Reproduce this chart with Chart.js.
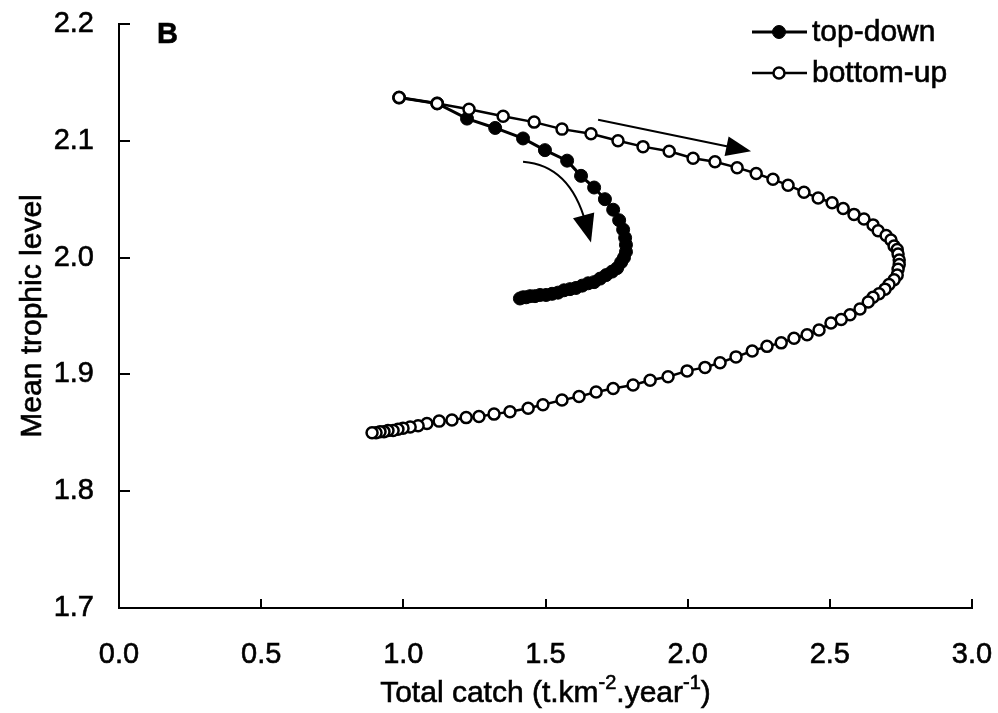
<!DOCTYPE html>
<html><head><meta charset="utf-8">
<script src="https://cdn.jsdelivr.net/npm/chart.js@4.4.1/dist/chart.umd.min.js"></script>
<style>html,body{margin:0;padding:0;background:#fff}#wrap{width:998px;height:713px;position:relative}</style>
</head><body><div id="wrap"><canvas id="c" width="998" height="713"></canvas></div>
<script>
// ---- data ----
const seriesNames = ['top-down', 'bottom-up'];
const topDownX = [0.985,1.119,1.224,1.323,1.421,1.498,1.576,1.625,1.671,1.709,1.738,1.759,1.773,1.780,1.783,1.783,1.776,1.766,1.752,1.734,1.713,1.692,1.671,1.650,1.629,1.607,1.586,1.565,1.544,1.523,1.502,1.481,1.463,1.446,1.432,1.421,1.410];
const topDownY = [2.137,2.132,2.119,2.111,2.102,2.092,2.083,2.070,2.060,2.050,2.041,2.032,2.024,2.017,2.011,2.005,2.000,1.996,1.991,1.988,1.985,1.982,1.979,1.978,1.976,1.974,1.973,1.972,1.970,1.969,1.968,1.968,1.967,1.967,1.966,1.966,1.965];
const bottomUpX = [0.985,1.119,1.231,1.351,1.460,1.558,1.660,1.755,1.843,1.935,2.019,2.096,2.174,2.241,2.300,2.353,2.409,2.459,2.508,2.547,2.585,2.620,2.652,2.670,2.698,2.715,2.726,2.737,2.740,2.744,2.744,2.740,2.737,2.726,2.708,2.694,2.673,2.652,2.635,2.606,2.571,2.540,2.504,2.462,2.420,2.374,2.329,2.279,2.227,2.170,2.114,2.061,1.998,1.931,1.868,1.808,1.738,1.678,1.618,1.558,1.491,1.439,1.375,1.319,1.266,1.221,1.171,1.126,1.083,1.052,1.024,0.999,0.981,0.964,0.946,0.932,0.918,0.904,0.890];
const bottomUpY = [2.137,2.132,2.127,2.121,2.116,2.110,2.106,2.100,2.095,2.091,2.085,2.082,2.077,2.072,2.067,2.062,2.056,2.051,2.047,2.042,2.037,2.033,2.028,2.023,2.019,2.015,2.010,2.007,2.003,1.998,1.994,1.990,1.985,1.981,1.977,1.973,1.969,1.966,1.962,1.956,1.951,1.947,1.944,1.938,1.934,1.931,1.927,1.924,1.920,1.915,1.910,1.906,1.903,1.898,1.895,1.891,1.888,1.885,1.881,1.878,1.874,1.871,1.868,1.866,1.864,1.863,1.861,1.860,1.858,1.856,1.855,1.854,1.853,1.852,1.852,1.851,1.851,1.850,1.850];
const xTickValues = [0.0, 0.5, 1.0, 1.5, 2.0, 2.5, 3.0];
const yTickValues = [1.7, 1.8, 1.9, 2.0, 2.1, 2.2];
const xTitleParts = [['Total catch (t.km', 0], ['-2', 1], ['.year', 0], ['-1', 1], [')', 0]];
const yTitle = 'Mean trophic level';
const panelLabel = 'B';
// direction arrows, in data units: [x0,y0, (cx,cy), x1,y1]
const straightArrow = [1.685, 2.118, 2.223, 2.091];
const curvedArrow = [1.421, 2.082, 1.586, 2.079, 1.660, 2.013];

const FONT = "'Liberation Sans', Arial, sans-serif";
const STROKE = 0.6;
const zip = (xs, ys) => xs.map((x, i) => ({x, y: ys[i]}));

function heavyText(ctx, t, x, y) {
  ctx.fillText(t, x, y);
  ctx.lineWidth = STROKE; ctx.strokeStyle = '#000';
  ctx.strokeText(t, x, y);
}

const inwardTicks = {
  id: 'inwardTicks',
  afterDraw(chart) {
    const {ctx, scales: {x, y}} = chart;
    ctx.save();
    ctx.strokeStyle = '#000'; ctx.lineWidth = 2;
    ctx.beginPath();
    y.ticks.forEach(t => { if (t.value <= y.min) return; const py = Math.round(y.getPixelForValue(t.value)); ctx.moveTo(x.left, py); ctx.lineTo(x.left + 11, py); });
    x.ticks.forEach(t => { if (t.value <= x.min) return; const px = Math.round(x.getPixelForValue(t.value)); ctx.moveTo(px, y.bottom); ctx.lineTo(px, y.bottom - 9); });
    ctx.stroke();
    ctx.restore();
  }
};

function arrowHead(ctx, tx, ty, dx, dy, len, half) {
  const L = Math.hypot(dx, dy); const ux = dx / L, uy = dy / L;
  const bx = tx - ux * len, by = ty - uy * len;
  ctx.beginPath();
  ctx.moveTo(tx, ty);
  ctx.lineTo(bx - uy * half, by + ux * half);
  ctx.lineTo(bx + uy * half, by - ux * half);
  ctx.closePath(); ctx.fill();
}

const extras = {
  id: 'extras',
  afterDraw(chart) {
    const {ctx, scales: {x, y}, chartArea: ca} = chart;
    ctx.save();
    ctx.fillStyle = '#000'; ctx.strokeStyle = '#000';
    // straight arrow
    const s0x = x.getPixelForValue(straightArrow[0]), s0y = y.getPixelForValue(straightArrow[1]);
    const s1x = x.getPixelForValue(straightArrow[2]), s1y = y.getPixelForValue(straightArrow[3]);
    const sdx = s1x - s0x, sdy = s1y - s0y, sl = Math.hypot(sdx, sdy);
    ctx.lineWidth = 2;
    ctx.beginPath(); ctx.moveTo(s0x, s0y); ctx.lineTo(s1x - sdx / sl * 20, s1y - sdy / sl * 20); ctx.stroke();
    arrowHead(ctx, s1x, s1y, sdx, sdy, 25, 10);
    // curved arrow
    const c0x = x.getPixelForValue(curvedArrow[0]), c0y = y.getPixelForValue(curvedArrow[1]);
    const ccx = x.getPixelForValue(curvedArrow[2]), ccy = y.getPixelForValue(curvedArrow[3]);
    const c1x = x.getPixelForValue(curvedArrow[4]), c1y = y.getPixelForValue(curvedArrow[5]);
    const ddx = c1x - ccx, ddy = c1y - ccy, dl = Math.hypot(ddx, ddy);
    const ex = c1x - ddx / dl * 20, ey = c1y - ddy / dl * 20;
    ctx.lineWidth = 2;
    ctx.beginPath(); ctx.moveTo(c0x, c0y); ctx.quadraticCurveTo(ccx, ccy, ex, ey); ctx.stroke();
    arrowHead(ctx, c1x, c1y, ddx, ddy, 28, 11);
    // panel label
    ctx.font = 'bold 29px ' + FONT; ctx.textBaseline = 'alphabetic'; ctx.textAlign = 'left';
    heavyText(ctx, panelLabel, ca.left + 38, ca.top + 19);
    // x title with superscripts
    const base = 30, sup = 20;
    let total = 0;
    xTitleParts.forEach(([t, s]) => { ctx.font = (s ? sup : base) + 'px ' + FONT; total += ctx.measureText(t).width; });
    let cx = (ca.left + ca.right) / 2 - total / 2;
    const by = ca.bottom + 94;
    xTitleParts.forEach(([t, s]) => { ctx.font = (s ? sup : base) + 'px ' + FONT; heavyText(ctx, t, cx, s ? by - 13 : by); cx += ctx.measureText(t).width; });
    // y title
    ctx.save();
    ctx.translate(33, (ca.top + ca.bottom) / 2);
    ctx.rotate(-Math.PI / 2);
    ctx.font = '30px ' + FONT; ctx.textAlign = 'center'; ctx.textBaseline = 'middle';
    heavyText(ctx, yTitle, 0, 0);
    ctx.restore();
    // legend (in the order of seriesNames)
    ctx.font = '30px ' + FONT; ctx.textBaseline = 'middle'; ctx.textAlign = 'left';
    seriesNames.forEach((name, i) => {
      const d = chart.data.datasets.find(ds => ds.label === name);
      const ly = ca.top + 8 + i * 41;
      const lx0 = ca.right - 220, lx1 = ca.right - 165, mx = ca.right - 193;
      ctx.lineWidth = d.borderWidth; ctx.strokeStyle = d.borderColor;
      ctx.beginPath(); ctx.moveTo(lx0, ly); ctx.lineTo(lx1, ly); ctx.stroke();
      ctx.beginPath(); ctx.arc(mx, ly, d.pointRadius, 0, Math.PI * 2);
      ctx.fillStyle = d.pointBackgroundColor; ctx.fill();
      ctx.lineWidth = d.pointBorderWidth; ctx.strokeStyle = d.pointBorderColor; ctx.stroke();
      ctx.fillStyle = '#000';
      heavyText(ctx, d.label, lx1 + 5, ly + 1);
    });
    ctx.restore();
  }
};

new Chart(document.getElementById('c'), {
  type: 'scatter',
  data: {
    datasets: [
      { label: seriesNames[1], data: zip(bottomUpX, bottomUpY), showLine: true, order: 0,
        borderColor: '#000', borderWidth: 2.5, pointRadius: 5.5, pointBorderWidth: 2.5,
        pointBackgroundColor: '#fff', pointBorderColor: '#000', tension: 0 },
      { label: seriesNames[0], data: zip(topDownX, topDownY), showLine: true, order: 1,
        borderColor: '#000', borderWidth: 3, pointRadius: 6.5, pointBorderWidth: 1,
        pointBackgroundColor: '#000', pointBorderColor: '#000', tension: 0 }
    ]
  },
  options: {
    responsive: false, animation: false, devicePixelRatio: 1,
    layout: { padding: { top: 24, right: 26, left: 0, bottom: 0 } },
    plugins: { legend: { display: false }, tooltip: { enabled: false } },
    scales: {
      x: {
        type: 'linear', min: 0, max: 3,
        afterBuildTicks: s => { s.ticks = xTickValues.map(v => ({value: v})); },
        afterFit: s => { s.height = 105; s.paddingLeft = 0; s.paddingRight = 0; },
        grid: { display: false, drawTicks: false },
        border: { display: true, color: '#000', width: 2 },
        ticks: { padding: 30, color: '#000', font: { family: FONT, size: 29 }, maxRotation: 0,
                 textStrokeColor: '#000', textStrokeWidth: STROKE,
                 callback: v => Number(v).toFixed(1) },
        title: { display: false }
      },
      y: {
        type: 'linear', min: 1.7, max: 2.2,
        afterBuildTicks: s => { s.ticks = yTickValues.map(v => ({value: v})); },
        afterFit: s => { s.width = 119; s.paddingTop = 0; s.paddingBottom = 0; },
        grid: { display: false, drawTicks: false },
        border: { display: true, color: '#000', width: 2 },
        ticks: { padding: 25, color: '#000', font: { family: FONT, size: 29 },
                 textStrokeColor: '#000', textStrokeWidth: STROKE,
                 callback: v => Number(v).toFixed(1) },
        title: { display: false }
      }
    }
  },
  plugins: [inwardTicks, extras]
});
</script></body></html>
